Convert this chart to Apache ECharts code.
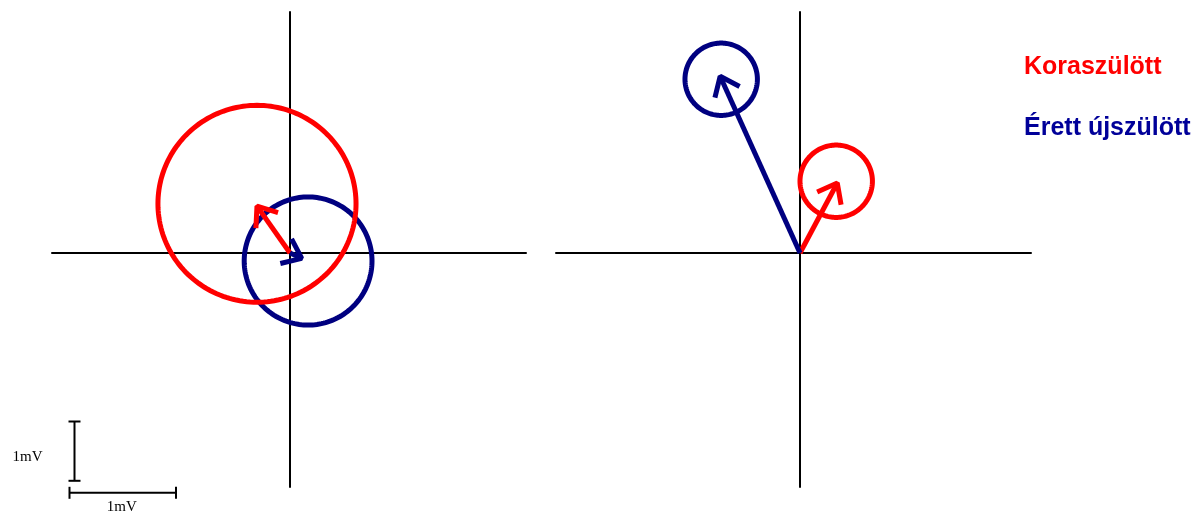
<!DOCTYPE html>
<html>
<head>
<meta charset="utf-8">
<script src="https://cdn.jsdelivr.net/npm/echarts@6/dist/echarts.min.js"></script>
<style>
  html, body { margin: 0; padding: 0; background: #fff; }
  #chart { width: 1203px; height: 511px; }
</style>
</head>
<body>
<div id="chart"></div>
<script>
// Group names
const groupNames = ['Koraszülött', 'Érett újszülött'];
const groupColors = ['#ff0000', '#000080'];

// Mean vectors (mV) for the two panels [left, right]
const pretermVectors = [[-0.31, 0.79], [0.35, 1.18]];
const termVectors = [[0.11, -0.09], [-0.75, 2.98]];

// Confidence ellipses: centre (mV) and half-axes (mV) per panel
const pretermCenters = [[-0.31, 0.83], [0.34, 1.21]];
const pretermRadii = [[0.93, 1.66], [0.34, 0.61]];
const termCenters = [[0.17, -0.135], [-0.74, 2.93]];
const termRadii = [[0.60, 1.08], [0.34, 0.61]];

// Scale bar lengths (mV)
const scaleBarX = 1;
const scaleBarY = 1;
const scaleBarLabel = '1mV';

// Layout: pixels per mV on each axis and panel placement
const PX_X = 106.5, PX_Y = 59.3;
const panelTop = 12, panelHeight = 475, originY = 253;
const panels = [
  { left: 52, width: 474, originX: 290 },
  { left: 556, width: 475, originX: 800 }
];

const grids = [], xAxes = [], yAxes = [];
panels.forEach(p => {
  grids.push({ left: p.left, top: panelTop, width: p.width, height: panelHeight });
  const axisBase = {
    type: 'value',
    axisLine: { show: true, onZero: true, lineStyle: { color: '#000', width: 2 } },
    axisTick: { show: false }, axisLabel: { show: false }, splitLine: { show: false }
  };
  xAxes.push(Object.assign({}, axisBase, {
    gridIndex: grids.length - 1,
    min: -(p.originX - p.left) / PX_X,
    max: (p.left + p.width - p.originX) / PX_X
  }));
  yAxes.push(Object.assign({}, axisBase, {
    gridIndex: grids.length - 1,
    min: -(panelTop + panelHeight - originY) / PX_Y,
    max: (originY - panelTop) / PX_Y
  }));
});
// Grid holding the scale bars
grids.push({ left: 69.5, top: 421.5, width: scaleBarX * PX_X, height: scaleBarY * PX_Y });
xAxes.push({ type: 'value', gridIndex: 2, min: 0, max: scaleBarX, show: false });
yAxes.push({ type: 'value', gridIndex: 2, min: 0, max: scaleBarY, show: false });

function ellipseItem(color) {
  return function (params, api) {
    const c = api.coord([api.value(0), api.value(1)]);
    const s = api.size([api.value(2), api.value(3)]);
    const pts = [];
    for (let i = 0; i < 180; i++) {
      const t = i / 180 * Math.PI * 2;
      pts.push([c[0] + s[0] * Math.cos(t), c[1] + s[1] * Math.sin(t)]);
    }
    return {
      type: 'polygon',
      shape: { points: pts },
      style: { fill: 'none', stroke: color, lineWidth: 5 }
    };
  };
}

function arrowItem(color) {
  return function (params, api) {
    const p0 = api.coord([0, 0]);
    const p1 = api.coord([api.value(0), api.value(1)]);
    const back = Math.atan2(p0[1] - p1[1], p0[0] - p1[0]);
    const len = 22, spread = 38 * Math.PI / 180;
    const b1 = [p1[0] + len * Math.cos(back + spread), p1[1] + len * Math.sin(back + spread)];
    const b2 = [p1[0] + len * Math.cos(back - spread), p1[1] + len * Math.sin(back - spread)];
    const style = { fill: 'none', stroke: color, lineWidth: 5, lineJoin: 'bevel', lineCap: 'butt' };
    return {
      type: 'group',
      children: [
        { type: 'line', shape: { x1: p0[0], y1: p0[1], x2: p1[0], y2: p1[1] }, style: style },
        { type: 'polyline', shape: { points: [b1, p1, b2] }, style: style }
      ]
    };
  };
}

const series = [];
panels.forEach((p, i) => {
  series.push({
    type: 'custom', name: groupNames[1], xAxisIndex: i, yAxisIndex: i, clip: false, silent: true,
    renderItem: ellipseItem(groupColors[1]),
    data: [[termCenters[i][0], termCenters[i][1], termRadii[i][0], termRadii[i][1]]]
  });
  series.push({
    type: 'custom', name: groupNames[0], xAxisIndex: i, yAxisIndex: i, clip: false, silent: true,
    renderItem: ellipseItem(groupColors[0]),
    data: [[pretermCenters[i][0], pretermCenters[i][1], pretermRadii[i][0], pretermRadii[i][1]]]
  });
  series.push({
    type: 'custom', name: groupNames[0], xAxisIndex: i, yAxisIndex: i, clip: false, silent: true,
    renderItem: arrowItem(groupColors[0]),
    data: [pretermVectors[i]]
  });
  series.push({
    type: 'custom', name: groupNames[1], xAxisIndex: i, yAxisIndex: i, clip: false, silent: true,
    renderItem: arrowItem(groupColors[1]),
    data: [termVectors[i]]
  });
});

// Scale bars with their labels
series.push({
  type: 'custom', xAxisIndex: 2, yAxisIndex: 2, clip: false, silent: true,
  data: [[scaleBarX, scaleBarY]],
  renderItem: function (params, api) {
    const o = api.coord([0, 0]);
    const top = api.coord([0, api.value(1)]);
    const right = api.coord([api.value(0), 0]);
    const vx = o[0] + 5, hy = o[1] + 12, cap = 6;
    const st = { stroke: '#000', lineWidth: 2 };
    const txt = { fill: '#000', fontFamily: 'Liberation Serif, Times New Roman, serif', fontSize: 15 };
    return {
      type: 'group',
      children: [
        { type: 'line', shape: { x1: vx, y1: top[1], x2: vx, y2: o[1] }, style: st },
        { type: 'line', shape: { x1: vx - cap, y1: top[1], x2: vx + cap, y2: top[1] }, style: st },
        { type: 'line', shape: { x1: vx - cap, y1: o[1], x2: vx + cap, y2: o[1] }, style: st },
        { type: 'line', shape: { x1: o[0], y1: hy, x2: right[0], y2: hy }, style: st },
        { type: 'line', shape: { x1: o[0], y1: hy - cap, x2: o[0], y2: hy + cap }, style: st },
        { type: 'line', shape: { x1: right[0], y1: hy - cap, x2: right[0], y2: hy + cap }, style: st },
        { type: 'text', style: Object.assign({ text: scaleBarLabel, x: o[0] - 27, y: (o[1] + top[1]) / 2 + 6,
            align: 'right', verticalAlign: 'middle' }, txt) },
        { type: 'text', style: Object.assign({ text: scaleBarLabel, x: (o[0] + right[0]) / 2 - 1, y: hy + 14,
            align: 'center', verticalAlign: 'middle' }, txt) }
      ]
    };
  }
});

const chart = echarts.init(document.getElementById('chart'), null, { renderer: 'canvas' });
chart.setOption({
  animation: false,
  backgroundColor: '#fff',
  grid: grids,
  xAxis: xAxes,
  yAxis: yAxes,
  series: series,
  graphic: groupNames.map((name, i) => ({
    type: 'text',
    left: 1024,
    top: i === 0 ? 55 : 116,
    style: {
      text: name,
      fill: i === 0 ? '#ff0000' : '#000099',
      font: 'bold 25px "Liberation Sans", Arial, sans-serif'
    }
  }))
});
</script>
</body>
</html>
